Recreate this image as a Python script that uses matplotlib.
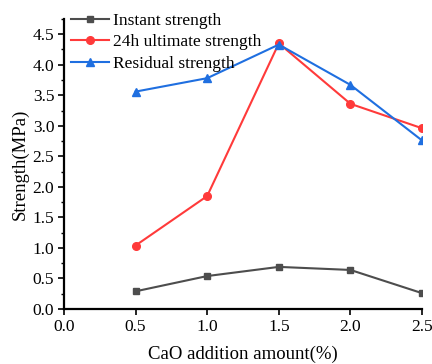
import matplotlib
matplotlib.use("Agg")
import matplotlib.pyplot as plt
from matplotlib.ticker import MultipleLocator

plt.rcParams['font.family'] = ['Liberation Serif', 'DejaVu Serif']

# CaO dosage (%)
cao = [0.5, 1.0, 1.5, 2.0, 2.5]
instant = [0.29, 0.54, 0.69, 0.64, 0.26]
ultimate_24h = [1.04, 1.85, 4.35, 3.36, 2.96]
residual = [3.56, 3.78, 4.33, 3.67, 2.76]

fig = plt.figure(figsize=(4.32, 3.64), dpi=100)
ax = fig.add_axes([0.148, 0.151, 0.829, 0.797])

ax.plot(cao, instant, color='#4d4d4d', marker='s', markersize=5, lw=1.5, label='Instant strength')
ax.plot(cao, ultimate_24h, color='#ff3a3a', marker='o', markersize=5.5, lw=1.5, label='24h ultimate strength')
ax.plot(cao, residual, color='#1f6fe0', marker='^', markersize=6, lw=1.5, label='Residual strength')

ax.set_xlim(0, 2.5)
ax.set_ylim(0, 4.75)
ax.xaxis.set_major_locator(MultipleLocator(0.5))
ax.yaxis.set_major_locator(MultipleLocator(0.5))
ax.yaxis.set_minor_locator(MultipleLocator(0.25))
ax.xaxis.set_major_formatter(matplotlib.ticker.FormatStrFormatter('%.1f'))
ax.yaxis.set_major_formatter(matplotlib.ticker.FormatStrFormatter('%.1f'))

for s in ['top', 'right']:
    ax.spines[s].set_visible(False)
for s in ['left', 'bottom']:
    ax.spines[s].set_linewidth(1.6)
ax.tick_params(which='major', direction='out', length=4, width=1.2, labelsize=12.5, pad=3)
ax.tick_params(which='minor', direction='out', length=2.5, width=1)

ax.set_xlabel('CaO addition amount(%)', fontsize=13.5, labelpad=8)
ax.set_ylabel('Strength(MPa)', fontsize=13.5, labelpad=3)

ax.legend(loc='upper left', frameon=False, fontsize=12.5, handlelength=2.2,
          borderaxespad=0.0, labelspacing=0.3, handletextpad=0.25,
          bbox_to_anchor=(0.0, 1.045))

fig.savefig('out.png', dpi=100)
